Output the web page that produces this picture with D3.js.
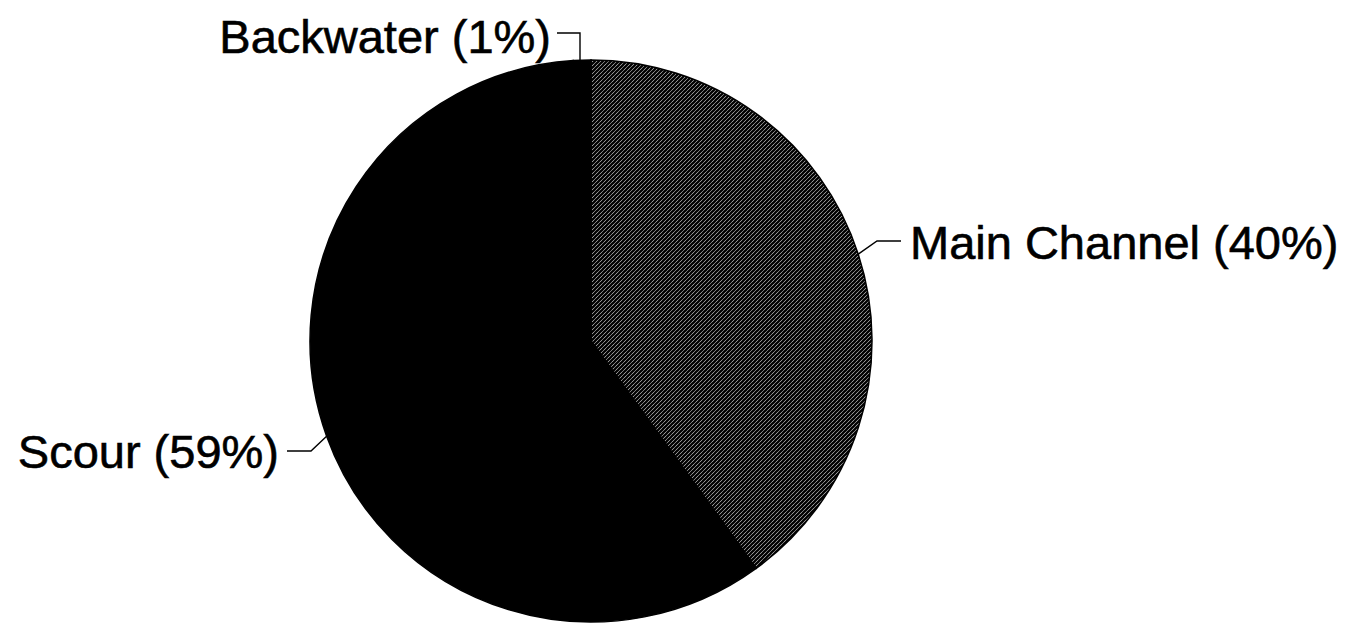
<!DOCTYPE html>
<html>
<head>
<meta charset="utf-8">
<script src="https://cdn.jsdelivr.net/npm/d3@7/dist/d3.min.js"></script>
<style>
  html, body { margin: 0; padding: 0; background: #fff; }
  svg { display: block; }
  text { font-family: "Liberation Sans", Arial, sans-serif; }
</style>
</head>
<body>
<svg id="chart" width="1370" height="624"></svg>
<script>
// Share of habitat type (percent)
const categories = ["Main Channel", "Scour", "Backwater"];
const shares = [40, 59, 1];
const labelText = ["Main Channel (40%)", "Scour (59%)", "Backwater (1%)"];

const W = 1370, H = 624;
const cx = 591, cy = 341, R = 281;

const svg = d3.select("#chart");

// diagonal hatch fill
const defs = svg.append("defs");
const pat = defs.append("pattern")
  .attr("id", "hatch")
  .attr("patternUnits", "userSpaceOnUse")
  .attr("width", 4).attr("height", 4);
pat.append("rect").attr("width", 4).attr("height", 4).attr("fill", "#fff");
pat.append("path")
  .attr("d", "M0,4 L4,0 M-1,1 L1,-1 M3,5 L5,3")
  .attr("stroke", "#000").attr("stroke-width", 2.3);

const fills = { "Main Channel": "url(#hatch)", "Scour": "#000", "Backwater": "#000" };

const pie = d3.pie().sort(null).value(d => d.v);
const data = categories.map((c, i) => ({ c, v: shares[i], label: labelText[i] }));
const arcs = pie(data);

const arc = d3.arc().innerRadius(0).outerRadius(R);
const g = svg.append("g").attr("transform", `translate(${cx},${cy})`);

g.selectAll("path.slice")
  .data(arcs)
  .enter().append("path")
  .attr("class", "slice")
  .attr("d", arc)
  .attr("fill", d => fills[d.data.c])
  .attr("stroke", "#000")
  .attr("stroke-width", 1.5);

// label layout: anchor point of text, elbow of the leader, text alignment
const labelLayout = {
  "Main Channel": { tx: 910, ty: 259, anchor: "start", elbow: [877 - cx, 241 - cy], end: [901 - cx, 241 - cy] },
  "Scour":        { tx: 279, ty: 468, anchor: "end",   elbow: [311 - cx, 451 - cy], end: [287 - cx, 451 - cy] },
  "Backwater":    { tx: 551, ty: 53,  anchor: "end",   elbow: [580 - cx, 33 - cy],  end: [557 - cx, 33 - cy] }
};

arcs.forEach(d => {
  const L = labelLayout[d.data.c];
  const mid = (d.startAngle + d.endAngle) / 2;
  let p0 = [Math.sin(mid) * R, -Math.cos(mid) * R];
  let elbow = L.elbow;
  if (d.data.c === "Backwater") {
    // vertical drop to the rim
    p0 = [elbow[0], -Math.sqrt(R * R - elbow[0] * elbow[0])];
  }
  g.append("path")
    .attr("d", d3.line()([p0, elbow, L.end]))
    .attr("fill", "none")
    .attr("stroke", "#000")
    .attr("stroke-width", 1.4);

  svg.append("text")
    .attr("x", L.tx).attr("y", L.ty)
    .attr("text-anchor", L.anchor)
    .attr("font-size", 47)
    .attr("fill", "#000")
    .attr("stroke", "#000")
    .attr("stroke-width", 0.6)
    .text(d.data.label);
});
</script>
</body>
</html>
